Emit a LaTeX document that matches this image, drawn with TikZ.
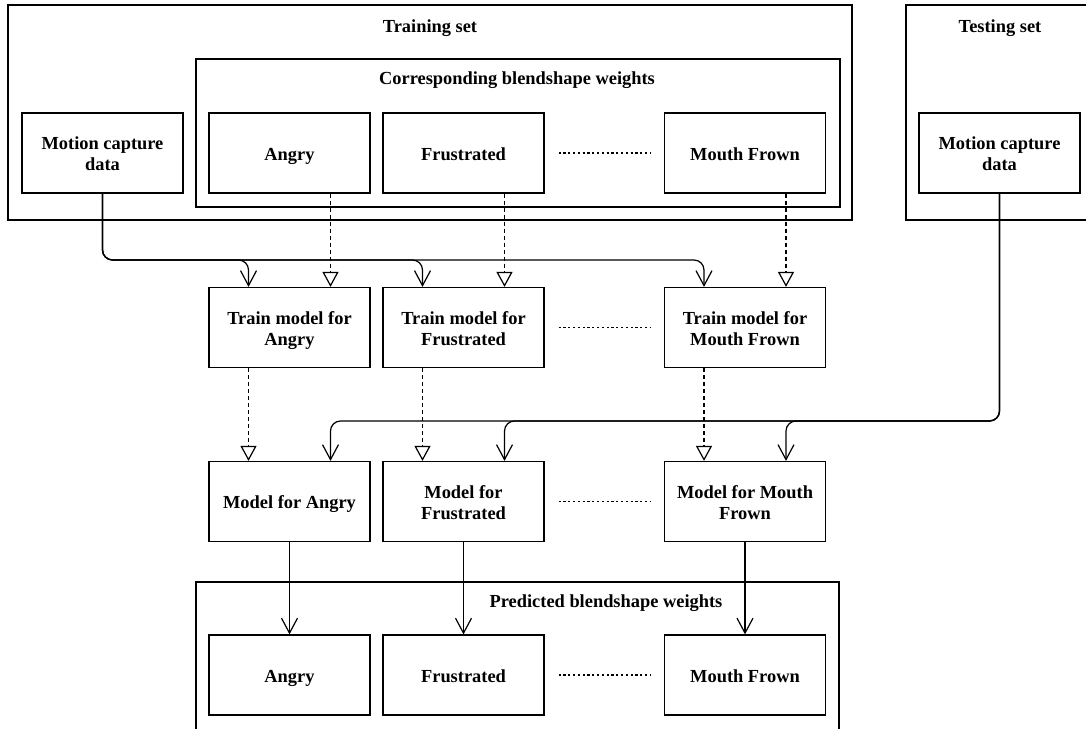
\documentclass[tikz,border=0pt]{standalone}
\usepackage{fontspec}
\setmainfont{Liberation Serif}
\usetikzlibrary{arrows.meta}
\newcommand{\tophi}{\rule{0pt}{21pt}}
\tikzset{
  box/.style={draw, line width=1.2pt, minimum width=161pt, minimum height=80pt, align=center, inner sep=2pt, font=\fontsize{18.4}{21}\selectfont\bfseries, execute at begin node={\rule{0pt}{20.5pt}}, execute at end node={\strut}},
  container/.style={draw, line width=1.2pt, inner sep=0pt},
  lbl/.style={font=\fontsize{18.4}{21}\selectfont\bfseries, inner sep=0pt},
  conn/.style={line width=1.2pt, rounded corners=10pt, -{Straight Barb[length=15pt,width=16pt]}},
  dconn/.style={line width=1.2pt, dash pattern=on 4pt off 3pt, -{Triangle[open,length=15pt,width=16pt]}},
  dots/.style={line width=1.6pt, dash pattern=on 2.2pt off 2.6pt}
}
\begin{document}
\begin{tikzpicture}[x=1pt,y=-1pt]
\useasboundingbox (0,0) rectangle (1086,728);
\clip (0,0) rectangle (1086,728);
% containers
\node[container, minimum width=844pt, minimum height=215pt] (trainset) at (430,112.5) {};
\node[lbl] (trainlbl) at (430,28) {Training set};
\node[container, minimum width=644pt, minimum height=148pt] (corr) at (518,133) {};
\node[lbl] (corrlbl) at (517,80) {Corresponding blendshape weights};
\node[container, minimum width=188pt, minimum height=215pt] (testset) at (1000,112.5) {};
\node[lbl] (testlbl) at (1000,28) {Testing set};
\node[container, minimum width=643pt, minimum height=170pt] (pred) at (517.5,667) {};
\node[lbl] (predlbl) at (606,603) {Predicted blendshape weights};
% row 1
\node[box] (mc1) at (102.5,153) {\tophi Motion capture\\data};
\node[box] (A1) at (289.5,153) {Angry};
\node[box] (F1) at (463.5,153) {Frustrated};
\node[box] (M1) at (745,153) {Mouth Frown};
\node[box] (mc2) at (999.5,153) {\tophi Motion capture\\data};
% row 2
\node[box] (tA) at (289.5,327.5) {\tophi Train model for\\Angry};
\node[box] (tF) at (463.5,327.5) {\tophi Train model for\\Frustrated};
\node[box] (tM) at (745,327.5) {\tophi Train model for\\Mouth Frown};
% row 3
\node[box] (mA) at (289.5,501.5) {Model for Angry};
\node[box] (mF) at (463.5,501.5) {\tophi Model for\\Frustrated};
\node[box] (mM) at (745,501.5) {\tophi Model for Mouth\\Frown};
% row 4
\node[box] (pA) at (289.5,675) {Angry};
\node[box] (pF) at (463.5,675) {Frustrated};
\node[box] (pM) at (745,675) {Mouth Frown};
% dotted separators
\foreach \r/\a/\b in {1/F1/M1, 2/tF/tM, 3/mF/mM, 4/pF/pM}{
  \draw[dots] ([xshift=14pt]\a.east) -- ([xshift=-13pt]\b.west);
}
% helper coordinates
\coordinate (ry) at (0,260);
\coordinate (ty) at (0,421);
% training motion capture to train models
\foreach \t in {tA,tF,tM}{
  \draw[conn] (mc1.south) |- ([xshift=-41pt]\t.north |- ry) -- ([xshift=-41pt]\t.north);
}
% blendshape weights to train models
\draw[dconn] ([xshift=41pt]A1.south) -- ([xshift=41pt]tA.north);
\draw[dconn] ([xshift=41pt]F1.south) -- ([xshift=41pt]tF.north);
\draw[dconn] ([xshift=41pt]M1.south) -- ([xshift=41pt]tM.north);
% train models to models
\draw[dconn] ([xshift=-41pt]tA.south) -- ([xshift=-41pt]mA.north);
\draw[dconn] ([xshift=-41pt]tF.south) -- ([xshift=-41pt]mF.north);
\draw[dconn] ([xshift=-41pt]tM.south) -- ([xshift=-41pt]mM.north);
% testing motion capture to models
\foreach \m in {mA,mF,mM}{
  \draw[conn] (mc2.south) |- ([xshift=41pt]\m.north |- ty) -- ([xshift=41pt]\m.north);
}
% models to predicted
\draw[conn] (mA.south) -- (pA.north);
\draw[conn] (mF.south) -- (pF.north);
\draw[conn] (mM.south) -- (pM.north);
\end{tikzpicture}
\end{document}
